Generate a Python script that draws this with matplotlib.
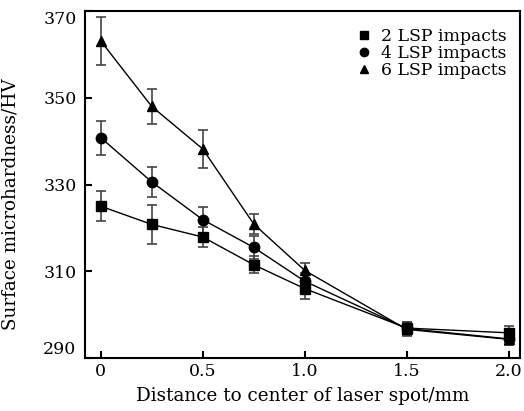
import numpy as np
import matplotlib.pyplot as plt
from matplotlib.lines import Line2D

plt.rcParams['font.family'] = ['DejaVu Serif']

distance = [0, 0.25, 0.5, 0.75, 1.0, 1.5, 2.0]

hv_2 = [325.0, 320.8, 317.9, 311.5, 306.0, 296.9, 295.8]
err_2 = [3.4, 4.5, 2.3, 2.0, 2.3, 1.5, 1.5]

hv_4 = [340.8, 330.6, 321.9, 315.5, 307.7, 296.8, 294.4]
err_4 = [3.9, 3.5, 3.0, 2.7, 2.0, 1.5, 1.3]

hv_6 = [363.1, 348.0, 338.2, 320.9, 310.2, 296.6, 294.3]
err_6 = [5.5, 4.0, 4.4, 2.2, 1.7, 1.5, 1.3]

labels = ['2 LSP impacts', '4 LSP impacts', '6 LSP impacts']
markers = ['s', 'o', '^']

fig = plt.figure(figsize=(5.24, 4.11), dpi=100)
ax = fig.add_axes([0.162, 0.129, 0.830, 0.844])

for y, e, m in zip([hv_2, hv_4, hv_6], [err_2, err_4, err_6], markers):
    ax.errorbar(distance, y, yerr=e, fmt='none', ecolor='#444444',
                elinewidth=1.2, capsize=3.5, capthick=1.2, zorder=2)
    ax.plot(distance, y, color='black', lw=1, marker=m, markersize=7.5,
            markerfacecolor='black', markeredgecolor='black', zorder=3)

ax.set_xlim(-0.078, 2.055)
ax.set_ylim(290, 370)
ax.set_xticks([0, 0.5, 1.0, 1.5, 2.0])
ax.set_xticklabels(['0', '0.5', '1.0', '1.5', '2.0'])
ax.set_yticks([290, 310, 330, 350, 370])
ax.tick_params(direction='in', length=5, width=1.5, labelsize=12.5,
               top=False, right=False)
ax.tick_params(axis='y', pad=6)
yl = ax.get_yticklabels()
yl[0].set_verticalalignment('bottom')
yl[-1].set_verticalalignment('top')
for s in ax.spines.values():
    s.set_linewidth(1.5)

ax.set_xlabel('Distance to center of laser spot/mm', fontsize=13.2, labelpad=5)
ax.set_ylabel('Surface microhardness/HV', fontsize=13.2)
ax.yaxis.set_label_coords(-0.15, 0.444)

handles = [Line2D([], [], ls='none', marker=m, color='black', markersize=6)
           for m in markers]
ax.legend(handles, labels, loc='upper right', frameon=False, fontsize=12.4,
          handletextpad=0.4, handlelength=1.2, labelspacing=0.0,
          borderaxespad=0.0, bbox_to_anchor=(0.985, 0.972))

fig.savefig('out.png', dpi=100)
